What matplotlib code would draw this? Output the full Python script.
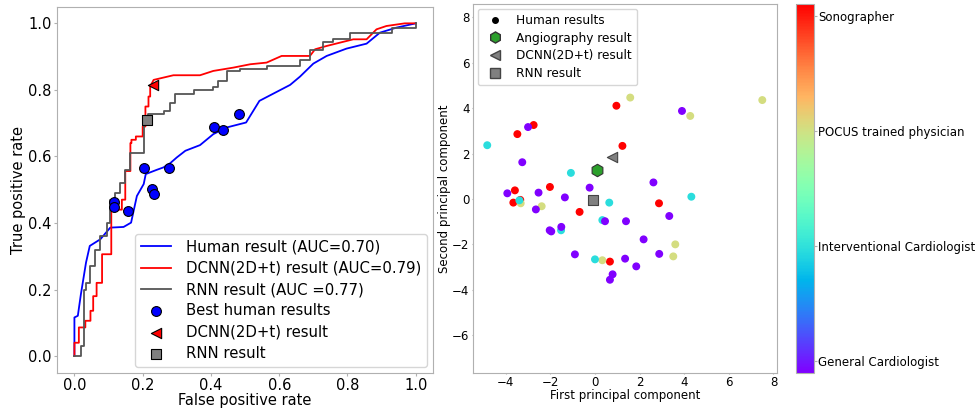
import numpy as np
import matplotlib

matplotlib.use("Agg")
import matplotlib.pyplot as plt
from matplotlib.lines import Line2D

# ROC curves (false positive rate, true positive rate)
human_fpr = [0.0, 0.0, 0.01, 0.019, 0.034, 0.045, 0.076, 0.105, 0.144, 0.166, 0.183, 0.203,
             0.209, 0.242, 0.261, 0.281, 0.30, 0.325, 0.368, 0.407, 0.446, 0.503, 0.542,
             0.632, 0.661, 0.70, 0.739, 0.797, 0.856, 0.895, 0.943, 1.0]
human_tpr = [0.0, 0.116, 0.121, 0.186, 0.281, 0.331, 0.351, 0.386, 0.388, 0.401, 0.481, 0.517,
             0.547, 0.56, 0.567, 0.58, 0.597, 0.617, 0.634, 0.667, 0.687, 0.702, 0.767,
             0.815, 0.84, 0.879, 0.902, 0.924, 0.939, 0.972, 0.987, 1.0]

# step curves: level reached at each fpr threshold
dcnn_step_fpr = [0.0, 0.013, 0.032, 0.047, 0.055, 0.065, 0.081, 0.108, 0.139, 0.149, 0.164,
                 0.167, 0.18, 0.20, 0.208, 0.217, 0.222]
dcnn_step_tpr = [0.04, 0.086, 0.106, 0.136, 0.18, 0.22, 0.306, 0.44, 0.47, 0.556, 0.64,
                 0.65, 0.66, 0.69, 0.75, 0.78, 0.81]
dcnn_tail_fpr = [0.232, 0.29, 0.368, 0.407, 0.466, 0.515, 0.563, 0.607, 0.69, 0.705, 0.739,
                 0.817, 0.856, 0.885, 0.914, 0.968, 1.0]
dcnn_tail_tpr = [0.83, 0.844, 0.844, 0.857, 0.867, 0.877, 0.882, 0.902, 0.902, 0.922, 0.932,
                 0.952, 0.952, 0.982, 0.992, 1.0, 1.0]

rnn_step_fpr = [0.0, 0.018, 0.019, 0.027, 0.035, 0.047, 0.061, 0.076, 0.096, 0.105, 0.12,
                0.134, 0.149, 0.164, 0.203, 0.217, 0.261, 0.281, 0.295, 0.349, 0.407,
                0.422, 0.446, 0.485, 0.563, 0.661, 0.69, 0.729, 0.758, 0.807, 0.929, 1.0]
rnn_step_tpr = [0.0, 0.01, 0.03, 0.20, 0.22, 0.27, 0.32, 0.36, 0.40, 0.47, 0.49,
                0.52, 0.56, 0.61, 0.707, 0.727, 0.737, 0.76, 0.787, 0.80, 0.81,
                0.827, 0.857, 0.862, 0.872, 0.89, 0.92, 0.944, 0.952, 0.97, 0.985, 1.0]

best_human_fpr = [0.116, 0.116, 0.158, 0.203, 0.227, 0.233, 0.277, 0.409, 0.435, 0.483]
best_human_tpr = [0.464, 0.449, 0.435, 0.566, 0.502, 0.486, 0.566, 0.687, 0.679, 0.729]
dcnn_point = (0.229, 0.815)
rnn_point = (0.214, 0.708)

# PCA of individual readers; group 0..3 = General, Interventional, POCUS, Sonographer
pc1 = [0.96, -3.48, -2.75, 1.23, -2.02, -3.59, -3.35, -3.66, -0.69, 2.87, 0.67,
       1.58, 7.50, 4.27, -3.33, -2.39, 3.60, 3.51, 0.33,
       -4.83, -1.08, -3.39, 0.64, -1.52, 0.33, 4.32, 0.0,
       3.90, -3.00, -3.26, 2.62, -0.24, -3.93, -2.53, -1.35, -2.65, 0.45, 1.39, 3.33,
       -1.51, -2.03, -1.96, 2.18, -0.90, 1.35, 2.88, 1.85, 0.79, 0.67]
pc2 = [4.11, 2.86, 3.26, 2.34, 0.53, 0.38, -0.04, -0.16, -0.57, -0.19, -2.76,
       4.47, 4.36, 3.66, -0.19, -0.32, -2.00, -2.53, -2.70,
       2.37, 1.15, -0.06, -0.16, -1.38, -0.93, 0.10, -2.66,
       3.88, 3.17, 1.62, 0.73, 0.50, 0.25, 0.28, 0.07, -0.46, -0.98, -0.98, -0.75,
       -1.23, -1.38, -1.43, -1.78, -2.44, -2.63, -2.42, -2.97, -3.32, -3.56]
group = [3] * 11 + [2] * 8 + [1] * 8 + [0] * 22
angio_pc = (0.09, 1.29)
dcnn_pc = (0.76, 1.87)
rnn_pc = (-0.10, -0.06)
group_labels = ["General Cardiologist", "Interventional Cardiologist",
                "POCUS trained physician", "Sonographer"]


def staircase(xs, ys):
    # ROC staircase: rise at each threshold, then run to the next one
    px, py = [0.0], [0.0]
    for x, y in zip(xs, ys):
        px += [x, x]
        py += [py[-1], y]
    return px, py


spine = "#b0b0b0"
fig = plt.figure(figsize=(9.77, 4.09), dpi=100)

# ---- left: ROC curves
ax = fig.add_axes([0.0587, 0.0888, 0.3843, 0.8948])
dx, dy = staircase(dcnn_step_fpr, dcnn_step_tpr)
rx, ry = staircase(rnn_step_fpr, rnn_step_tpr)
ax.plot(human_fpr, human_tpr, color="blue", lw=1.3, label="Human result (AUC=0.70)")
ax.plot(dx + dcnn_tail_fpr, dy + dcnn_tail_tpr, color="red", lw=1.3,
        label="DCNN(2D+t) result (AUC=0.79)")
ax.plot(rx, ry, color="#555555", lw=1.3, label="RNN result (AUC =0.77)")
ax.scatter(best_human_fpr, best_human_tpr, s=50, c="blue", edgecolors="black",
           linewidths=0.8, zorder=3, label="Best human results")
ax.scatter([dcnn_point[0]], [dcnn_point[1]], marker="<", s=55, c="red",
           edgecolors="black", linewidths=0.8, zorder=3, label="DCNN(2D+t) result")
ax.scatter([rnn_point[0]], [rnn_point[1]], marker="s", s=45, c="gray",
           edgecolors="black", linewidths=0.8, zorder=3, label="RNN result")
ax.set_xlabel("False positive rate", fontsize=10.5, labelpad=0)
ax.set_ylabel("True positive rate", fontsize=10.5, labelpad=2)
ax.tick_params(labelsize=10.5, color=spine, length=2.5, pad=1.5)
ax.legend(loc="lower right", fontsize=10.7, borderaxespad=0.4, labelspacing=0.42,
          handletextpad=1.0)
for s in ax.spines.values():
    s.set_color(spine)

# ---- right: PCA scatter
ax2 = fig.add_axes([0.4841, 0.088, 0.3112, 0.902])
ax2.scatter(pc1, pc2, c=group, cmap="rainbow", vmin=0, vmax=3, s=22)
ax2.scatter([angio_pc[0]], [angio_pc[1]], marker="h", s=80, c="#2ca02c",
            edgecolors="#333333", linewidths=0.8, zorder=3)
ax2.scatter([dcnn_pc[0]], [dcnn_pc[1]], marker="<", s=55, c="gray",
            edgecolors="#444444", linewidths=0.8, zorder=3)
ax2.scatter([rnn_pc[0]], [rnn_pc[1]], marker="s", s=60, c="gray",
            edgecolors="#444444", linewidths=0.8, zorder=3)
ax2.set_xlim(-5.47, 8.16)
ax2.set_ylim(-7.67, 8.59)
ax2.set_xticks(np.arange(-4, 9, 2))
ax2.set_yticks(np.arange(-6, 9, 2))
ax2.set_xlabel("First principal component", fontsize=8.5, labelpad=0)
ax2.set_ylabel("Second principal component", fontsize=8.5, labelpad=1)
ax2.tick_params(labelsize=8.5, color=spine, length=1, pad=1.5)
for s in ax2.spines.values():
    s.set_color(spine)
handles = [
    Line2D([], [], ls="none", marker="o", ms=4, color="black"),
    Line2D([], [], ls="none", marker="h", ms=8, mfc="#2ca02c", mec="#333333"),
    Line2D([], [], ls="none", marker="<", ms=7, mfc="gray", mec="#444444"),
    Line2D([], [], ls="none", marker="s", ms=7, mfc="gray", mec="#444444"),
]
ax2.legend(handles, ["Human results", "Angiography result", "DCNN(2D+t) result", "RNN result"],
           loc="upper left", fontsize=8.7, borderaxespad=0.4, labelspacing=0.4)

# ---- colorbar
cax = fig.add_axes([0.8147, 0.088, 0.0185, 0.902])
sm = matplotlib.cm.ScalarMappable(norm=matplotlib.colors.Normalize(-0.1, 3.1), cmap="rainbow")
cb = fig.colorbar(sm, cax=cax, ticks=[0, 1, 2, 3])
cb.set_ticklabels(group_labels)
cb.ax.tick_params(labelsize=8.5, length=2, pad=1, color=spine)
cb.outline.set_edgecolor(spine)

fig.savefig("out.png", dpi=100)
